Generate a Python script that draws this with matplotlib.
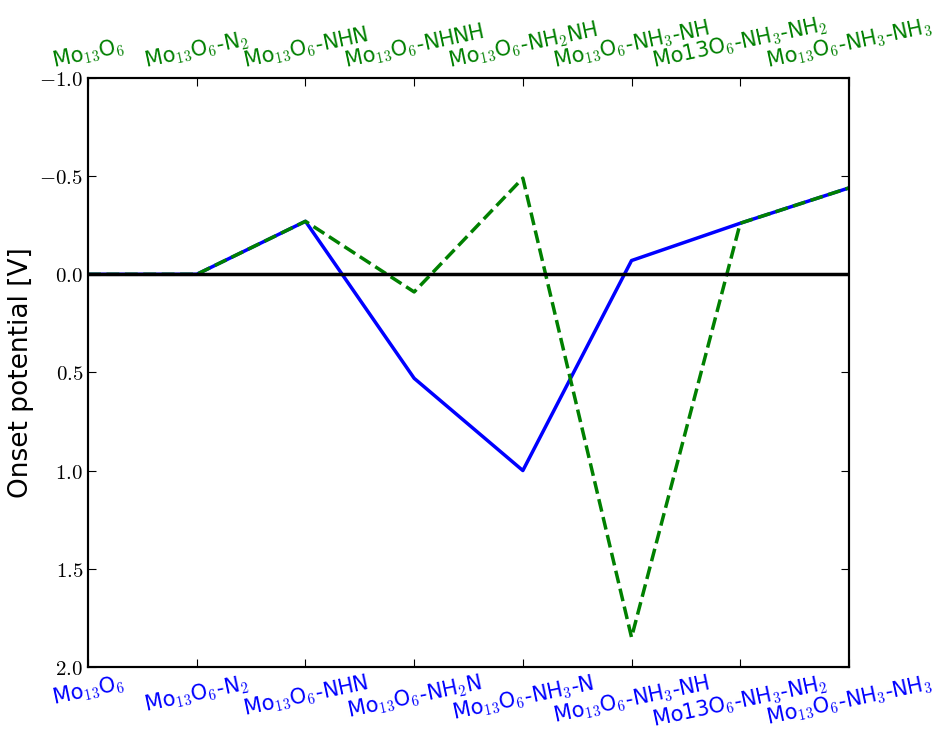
import matplotlib
matplotlib.use('Agg')
import matplotlib.pyplot as plt

plt.rcParams['mathtext.fontset'] = 'cm'
plt.rcParams['xtick.direction'] = 'in'
plt.rcParams['ytick.direction'] = 'in'

steps = range(8)
labels_blue = ['Mo$_{13}$O$_6$', 'Mo$_{13}$O$_6$-N$_2$', 'Mo$_{13}$O$_6$-NHN',
               'Mo$_{13}$O$_6$-NH$_2$N', 'Mo$_{13}$O$_6$-NH$_3$-N', 'Mo$_{13}$O$_6$-NH$_3$-NH',
               'Mo13O$_6$-NH$_3$-NH$_2$', 'Mo$_{13}$O$_6$-NH$_3$-NH$_3$']
labels_green = ['Mo$_{13}$O$_6$', 'Mo$_{13}$O$_6$-N$_2$', 'Mo$_{13}$O$_6$-NHN',
                'Mo$_{13}$O$_6$-NHNH', 'Mo$_{13}$O$_6$-NH$_2$NH', 'Mo$_{13}$O$_6$-NH$_3$-NH',
                'Mo13O$_6$-NH$_3$-NH$_2$', 'Mo$_{13}$O$_6$-NH$_3$-NH$_3$']
onset_blue = [0.0, 0.0, -0.27, 0.53, 1.0, -0.07, -0.26, -0.44]
onset_green = [0.0, 0.0, -0.27, 0.09, -0.49, 1.85, -0.26, -0.44]
yticks = [-1.0, -0.5, 0.0, 0.5, 1.0, 1.5, 2.0]

fig = plt.figure(figsize=(9.37, 7.36), dpi=100)
ax = fig.add_axes([0.094, 0.094, 0.812, 0.8])

ax.plot(steps, onset_blue, color='blue', lw=2.5)
ax.plot(steps, onset_green, color='green', lw=2.5, ls='--')
ax.axhline(0, color='black', lw=2.5, zorder=3)

ax.set_xlim(0, 7)
ax.set_ylim(2.0, -1.0)
ax.set_yticks(yticks)
ax.set_yticklabels(['$%.1f$' % v for v in yticks], fontsize=15)
ax.set_ylabel('Onset potential [V]', fontsize=19)

ax.set_xticks(steps)
ax.set_xticklabels(labels_blue, rotation=12, color='blue', fontsize=15, ha='center')
ax.tick_params(axis='x', length=6, width=0.8)
ax.tick_params(axis='y', length=6, width=0.8, right=True)

ax2 = ax.twiny()
ax2.set_xlim(0, 7)
ax2.set_xticks(steps)
ax2.set_xticklabels(labels_green, rotation=12, color='green', fontsize=15, ha='center')
ax2.tick_params(axis='x', length=6, width=0.8)

for a in (ax, ax2):
    for s in a.spines.values():
        s.set_linewidth(1.5)

fig.savefig('out.png', dpi=100)
